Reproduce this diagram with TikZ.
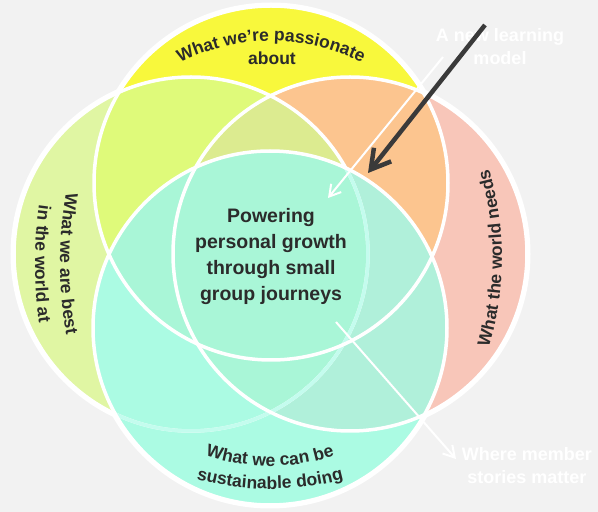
\documentclass[tikz,border=0pt]{standalone}
\usepackage{fontspec}
\setmainfont{Liberation Sans}
\usetikzlibrary{arrows.meta, decorations.text}

\definecolor{bgGrey}{HTML}{F2F2F2}
\definecolor{ink}{HTML}{2B2B2B}
\definecolor{arrowDark}{HTML}{3A3A3A}
\definecolor{ringCyan}{HTML}{C4FCEE}
\definecolor{cPassion}{HTML}{F8F83C}
\definecolor{cSkill}{HTML}{E0F6A3}
\definecolor{cNeed}{HTML}{F8C6B9}
\definecolor{cSustain}{HTML}{ABFBE3}
\definecolor{cPassSkill}{HTML}{DFFA7A}
\definecolor{cPassNeed}{HTML}{FCC58F}
\definecolor{cTriple}{HTML}{DCEB90}
\definecolor{cMid}{HTML}{A9F6D7}
\definecolor{cMidRight}{HTML}{B0F0DA}

\newcommand{\ringrad}{177}
\newcommand{\sidefont}{\fontsize{17.5}{24}\selectfont\bfseries}
\newcommand{\midfont}{\fontsize{19.5}{25.7}\selectfont\bfseries}
\newcommand{\notefont}{\fontsize{18}{23}\selectfont\bfseries}

\begin{document}
\begin{tikzpicture}[x=1pt, y=1pt]
    % settings for this picture
    \tikzset{
      rim/.style={draw=white, line width=7pt},
      ring/.style={draw=white, line width=3.5pt},
      faint ring/.style={draw=ringCyan, line width=3.5pt},
      arc text/.style={decorate, decoration={text along path, text align=center, text color=ink}},
      mission/.style={font=\midfont, text=ink, align=center, inner sep=0pt},
      note/.style={font=\notefont, text=white, align=center, inner sep=0pt},
      heavy arrow/.style={-{Straight Barb[length=19pt, width=22pt]}, draw=arrowDark, line width=4.5pt},
      light arrow/.style={-{Straight Barb[length=11pt, width=13pt]}, draw=white, line width=2pt},
    }

    \useasboundingbox (0,0) rectangle (598,512);
    \fill[bgGrey] (0,0) rectangle (598,512);

    % circle centres
    \coordinate (passion) at (271,329);
    \coordinate (skill) at (191,258);
    \coordinate (need) at (350,258);
    \coordinate (sustain) at (270,184);

    % outer rim
    \foreach \ctr in {passion, skill, need, sustain}
      \draw[rim] (\ctr) circle[radius=\ringrad];

    % fills
    \fill[cSkill] (skill) circle[radius=\ringrad];
    \fill[cNeed] (need) circle[radius=\ringrad];
    \fill[cPassion] (passion) circle[radius=\ringrad];
    \begin{scope}
      \clip (passion) circle[radius=\ringrad];
      \fill[cPassSkill] (skill) circle[radius=\ringrad];
      \fill[cPassNeed] (need) circle[radius=\ringrad];
      \clip (skill) circle[radius=\ringrad];
      \fill[cTriple] (need) circle[radius=\ringrad];
    \end{scope}
    \fill[cSustain] (sustain) circle[radius=\ringrad];
    \begin{scope}
      \clip (sustain) circle[radius=\ringrad];
      \fill[cMid] (passion) circle[radius=\ringrad];
      \fill[cMidRight] (need) circle[radius=\ringrad];
      \clip (skill) circle[radius=\ringrad];
      \fill[cMid] (need) circle[radius=\ringrad];
    \end{scope}

    % outlines
    \draw[ring] (skill) circle[radius=\ringrad];
    \begin{scope}
      \clip (sustain) circle[radius=\ringrad];
      \draw[faint ring] (skill) circle[radius=\ringrad];
    \end{scope}
    \foreach \ctr in {passion, need, sustain}
      \draw[ring] (\ctr) circle[radius=\ringrad];

    % circle labels
    \path[arc text, decoration={text={|\sidefont|What we’re passionate}}]
      ([shift={(145:200)}]271,271) arc[start angle=145, end angle=35, radius=200];
    \node[font=\sidefont, text=ink, anchor=base, inner sep=0pt] (about) at (272,447) {about};
    \path[arc text, decoration={text={|\sidefont|What we are best}}]
      ([shift={(150:403)}]463,248) arc[start angle=150, end angle=210, radius=403];
    \path[arc text, decoration={text={|\sidefont|in the world at}}]
      ([shift={(150:428)}]463,248) arc[start angle=150, end angle=210, radius=428];
    \path[arc text, decoration={text={|\sidefont|What the world needs}}]
      ([shift={(-25:309)}]193,254) arc[start angle=-25, end angle=25, radius=309];
    \path[arc text, decoration={text={|\sidefont|What we can be}}]
      ([shift={(235:203)}]270,249) arc[start angle=235, end angle=305, radius=203];
    \path[arc text, decoration={text={|\sidefont|sustainable doing}}]
      ([shift={(240:286)}]270,309) arc[start angle=240, end angle=300, radius=286];

    % centre text
    \node[mission] (purpose) at (271,255.5) {Powering\\personal growth\\through small\\group journeys};

    % notes
    \node[note] (newmodel) at (500,465) {A new learning\\model};
    \node[note] (stories) at (527,46) {Where member\\stories matter};

    % arrows
    \coordinate (darkstart) at (485,487);
    \coordinate (darktip) at (368,339);
    \coordinate (newstart) at (443,455);
    \coordinate (newtip) at (328,314);
    \coordinate (storystart) at (336,190);
    \coordinate (storytip) at (456,53);
    \draw[light arrow] (newstart) -- (newtip);
    \draw[light arrow] (storystart) -- (storytip);
    \draw[heavy arrow] (darkstart) -- (darktip);

\end{tikzpicture}
\end{document}
